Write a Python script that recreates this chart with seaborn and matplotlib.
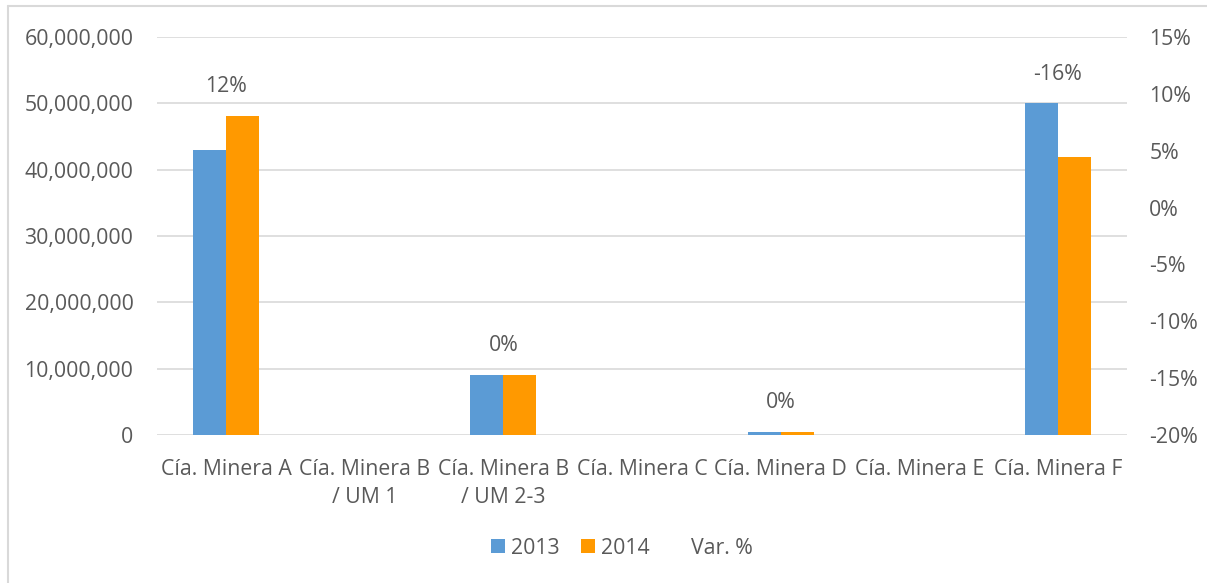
import numpy as np
import pandas as pd
import matplotlib
matplotlib.use("Agg")
import matplotlib.pyplot as plt
from matplotlib.patches import Patch
from matplotlib.lines import Line2D
from matplotlib.ticker import FuncFormatter, MultipleLocator
import seaborn as sns

categories = ["Cía. Minera A", "Cía. Minera B\n/ UM 1", "Cía. Minera B\n/ UM 2-3",
              "Cía. Minera C", "Cía. Minera D", "Cía. Minera E", "Cía. Minera F"]
values_2013 = [43.0e6, 0, 9.05e6, 0, 0.45e6, 0, 50.0e6]
values_2014 = [48.1e6, 0, 9.05e6, 0, 0.45e6, 0, 41.9e6]
var_pct = [12, np.nan, 0, np.nan, 0, np.nan, -16]
years = ["2013", "2014"]

colors = {"2013": "#5B9BD5", "2014": "#FF9900"}
text_gray = "#595959"
grid_gray = "#D9D9D9"
fs = 15.3

df = pd.DataFrame({
    "cat": categories * 2,
    "year": [years[0]] * len(categories) + [years[1]] * len(categories),
    "value": values_2013 + values_2014,
})

sns.set_theme(style="white")
plt.rcParams["font.family"] = ["Open Sans", "DejaVu Sans"]

W, H = 1207, 583
fig = plt.figure(figsize=(W / 100, H / 100), dpi=100)
fig.patch.set_facecolor("white")

x0, x1, ytop, ybot = 157, 1127, 37, 435
ax = fig.add_axes([x0 / W, 1 - ybot / H, (x1 - x0) / W, (ybot - ytop) / H])

sns.barplot(data=df, x="cat", y="value", hue="year", order=categories,
            hue_order=years, palette=colors, width=0.476, gap=0,
            saturation=1, ax=ax, legend=False, edgecolor="none")

ax.set_ylim(0, 60e6)
ax.set_xlim(-0.5, len(categories) - 0.5)
ax.yaxis.set_major_locator(MultipleLocator(10e6))
ax.yaxis.set_major_formatter(FuncFormatter(lambda v, p: f"{v:,.0f}"))
ax.grid(axis="y", color=grid_gray, linewidth=1.2)
ax.set_axisbelow(True)
for s in ax.spines.values():
    s.set_visible(False)
ax.set_xlabel("")
ax.set_ylabel("")
ax.tick_params(axis="y", length=0, pad=17, labelsize=fs, labelcolor=text_gray)
ax.tick_params(axis="x", length=0, pad=17, labelsize=fs, labelcolor=text_gray)
for lab in ax.get_xticklabels():
    lab.set_linespacing(1.45)

# secondary axis for the variation series
ax2 = ax.twinx()
ax2.set_ylim(-0.20, 0.15)
ax2.yaxis.set_major_locator(MultipleLocator(0.05))
ax2.yaxis.set_major_formatter(FuncFormatter(lambda v, p: f"{round(v * 100):d}%"))
for s in ax2.spines.values():
    s.set_visible(False)
ax2.tick_params(axis="y", length=0, pad=16, labelsize=fs, labelcolor=text_gray)
ax2.grid(False)

# variation labels above each group
for i, v in enumerate(var_pct):
    if np.isnan(v):
        continue
    top = max(values_2013[i], values_2014[i])
    ax.annotate(f"{v:.0f}%", xy=(i, top), xytext=(0, 21), textcoords="offset points",
                ha="center", va="center", fontsize=fs, color=text_gray)

handles = [Patch(facecolor=colors["2013"], edgecolor="none"),
           Patch(facecolor=colors["2014"], edgecolor="none"),
           Line2D([], [], color="none")]
fig.legend(handles, ["2013", "2014", "Var. %"], loc="center",
           bbox_to_anchor=(622 / W, 1 - 548 / H), ncol=3, frameon=False,
           fontsize=fs, labelcolor=text_gray, handlelength=0.65, handleheight=0.65,
           handletextpad=0.3, columnspacing=1.0)

# chart frame
fig.add_artist(Line2D([8 / W, 8 / W], [0, 1 - 6 / H], color=grid_gray, linewidth=1.5))
fig.add_artist(Line2D([8 / W, 1], [1 - 6 / H, 1 - 6 / H], color=grid_gray, linewidth=1.5))

fig.savefig("out.png", dpi=100)
